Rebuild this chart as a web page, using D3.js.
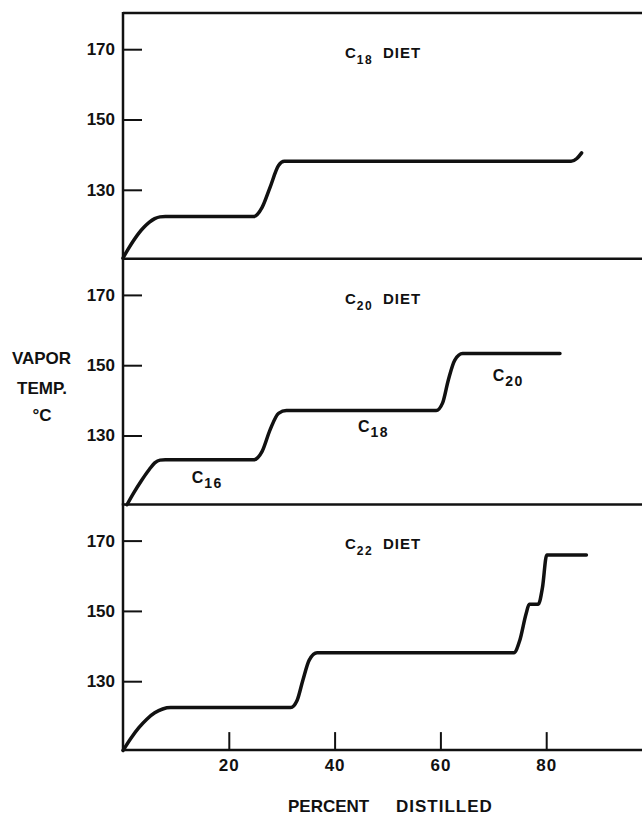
<!DOCTYPE html>
<html>
<head>
<meta charset="utf-8">
<script src="https://cdn.jsdelivr.net/npm/d3@7"></script>
<style>
  body { margin: 0; background: #fff; }
  svg { display: block; }
  text { font-family: "Liberation Sans", Arial, sans-serif; font-weight: bold; fill: #111; }
</style>
</head>
<body>
<div id="chart"></div>
<script>
// Percent distilled vs vapor temperature, three diets
const c18Pct  = [0, 1, 2, 3, 4, 5, 6, 7, 8, 24.7, 26.3, 27.8, 29.4, 30.5, 84.7, 85.8, 86.7];
const c18Temp = [110.6, 113.2, 115.6, 117.7, 119.4, 120.8, 121.8, 122.3, 122.4, 122.4, 125, 130.7, 136.9, 138.1, 138.1, 138.9, 140.5];

const c20Pct  = [0.75, 2, 3.5, 5, 6, 7, 8, 24.7, 26.3, 27.8, 29.4, 30.9, 59.2, 60.4, 61.5, 62.7, 64.2, 82.6];
const c20Temp = [110.3, 113.6, 117.2, 120.4, 122.2, 123, 123.1, 123.1, 125.5, 131.6, 136.3, 137.1, 137.1, 139.2, 145.8, 151.4, 153.3, 153.3];

const c22Pct  = [0, 1.5, 3, 4.5, 6, 7.5, 9, 31.7, 32.9, 34, 35.2, 36.7, 73.9, 75, 76.2, 76.8, 78.5, 79.3, 80.1, 87.6];
const c22Temp = [110.3, 113.8, 116.8, 119.2, 121, 122.1, 122.5, 122.5, 124.5, 130.3, 136, 138.1, 138.1, 141.6, 149.2, 151.9, 151.9, 156.7, 165.9, 165.9];

const yTicks = [130, 150, 170];
const xTicks = [20, 40, 60, 80];

// fraction labels inside the C20 panel: [sub, pct, temp]
const c20Labels = [["16", 13, 116.5], ["18", 44.4, 131.0], ["20", 69.9, 145.5]];

const width = 642, height = 815;
const plotLeft = 123, plotTop = 13, panelH = 245.7;

const svg = d3.select("#chart").append("svg")
    .attr("width", width)
    .attr("height", height);

const x = d3.scaleLinear().domain([0, 100]).range([plotLeft, plotLeft + 529]);

const panels = [
    { sub: "18", pct: c18Pct, temp: c18Temp },
    { sub: "20", pct: c20Pct, temp: c20Temp },
    { sub: "22", pct: c22Pct, temp: c22Temp }
];

// C with subscript
function cLabel(g, px, py, sub, size, subSize, drop) {
    const t = g.append("text")
        .attr("x", px).attr("y", py)
        .style("font-size", size + "px");
    t.append("tspan").text("C");
    t.append("tspan").text(sub)
        .attr("dx", 1)
        .attr("dy", drop)
        .style("font-size", subSize + "px")
        .style("letter-spacing", "1.5px");
    return t;
}

panels.forEach((p, i) => {
    const y0 = plotTop + i * panelH;
    const y = d3.scaleLinear().domain([110.4, 180.3]).range([y0 + panelH, y0]);
    const g = svg.append("g");

    // frame: top line (first panel only), bottom line, left axis
    if (i === 0) {
        g.append("line")
            .attr("x1", plotLeft).attr("x2", width)
            .attr("y1", y0).attr("y2", y0)
            .attr("stroke", "#111").attr("stroke-width", 2.5);
    }
    g.append("line")
        .attr("x1", plotLeft).attr("x2", width)
        .attr("y1", y0 + panelH).attr("y2", y0 + panelH)
        .attr("stroke", "#111").attr("stroke-width", 2.5);
    g.append("line")
        .attr("x1", plotLeft).attr("x2", plotLeft)
        .attr("y1", y0 - 1).attr("y2", y0 + panelH + 1)
        .attr("stroke", "#111").attr("stroke-width", 2.5);

    // y ticks point inward
    const yAxis = d3.axisLeft(y).tickValues(yTicks).tickSize(-19).tickPadding(8);
    const ya = g.append("g").attr("transform", `translate(${plotLeft},0)`).call(yAxis);
    ya.select(".domain").remove();
    ya.selectAll(".tick line").attr("stroke", "#111").attr("stroke-width", 2);
    ya.selectAll(".tick text")
        .style("font-size", "17px")
        .style("font-family", "'Liberation Sans', Arial, sans-serif")
        .style("font-weight", "bold")
        .attr("fill", "#111");

    // curve
    const line = d3.line()
        .x(d => x(d[0]))
        .y(d => y(d[1]))
        .curve(d3.curveMonotoneX);
    g.append("path")
        .datum(d3.zip(p.pct, p.temp))
        .attr("d", line)
        .attr("fill", "none")
        .attr("stroke", "#111")
        .attr("stroke-width", 3.5)
        .attr("stroke-linejoin", "round")
        .attr("stroke-linecap", "round");

    // panel title
    cLabel(g, 345, y0 + 45, p.sub, 15, 12, 6);
    g.append("text")
        .attr("x", 383).attr("y", y0 + 45)
        .style("font-size", "15px")
        .style("letter-spacing", "1px")
        .text("DIET");

    if (i === 1) {
        c20Labels.forEach(l => cLabel(g, x(l[1]), y(l[2]), l[0], 16, 14, 5));
    }

    if (i === 2) {
        const xAxis = d3.axisBottom(x).tickValues(xTicks).tickSize(-18).tickPadding(9);
        const xa = g.append("g").attr("transform", `translate(0,${y0 + panelH})`).call(xAxis);
        xa.select(".domain").remove();
        xa.selectAll(".tick line").attr("stroke", "#111").attr("stroke-width", 2);
        xa.selectAll(".tick text")
            .style("font-size", "17px")
            .style("letter-spacing", "1px")
            .style("font-family", "'Liberation Sans', Arial, sans-serif")
            .style("font-weight", "bold")
            .attr("fill", "#111");
    }
});

// axis titles
const yTitle = svg.append("g").style("font-size", "17px");
yTitle.append("text").attr("x", 41.5).attr("y", 364).attr("text-anchor", "middle").text("VAPOR");
yTitle.append("text").attr("x", 42).attr("y", 394).attr("text-anchor", "middle").text("TEMP.");
yTitle.append("text").attr("x", 42).attr("y", 421).attr("text-anchor", "middle").text("°C");

svg.append("text")
    .attr("x", 288).attr("y", 812)
    .style("font-size", "17px")
    .text("PERCENT");
svg.append("text")
    .attr("x", 396).attr("y", 812)
    .style("font-size", "17px")
    .style("letter-spacing", "1px")
    .text("DISTILLED");
</script>
</body>
</html>
